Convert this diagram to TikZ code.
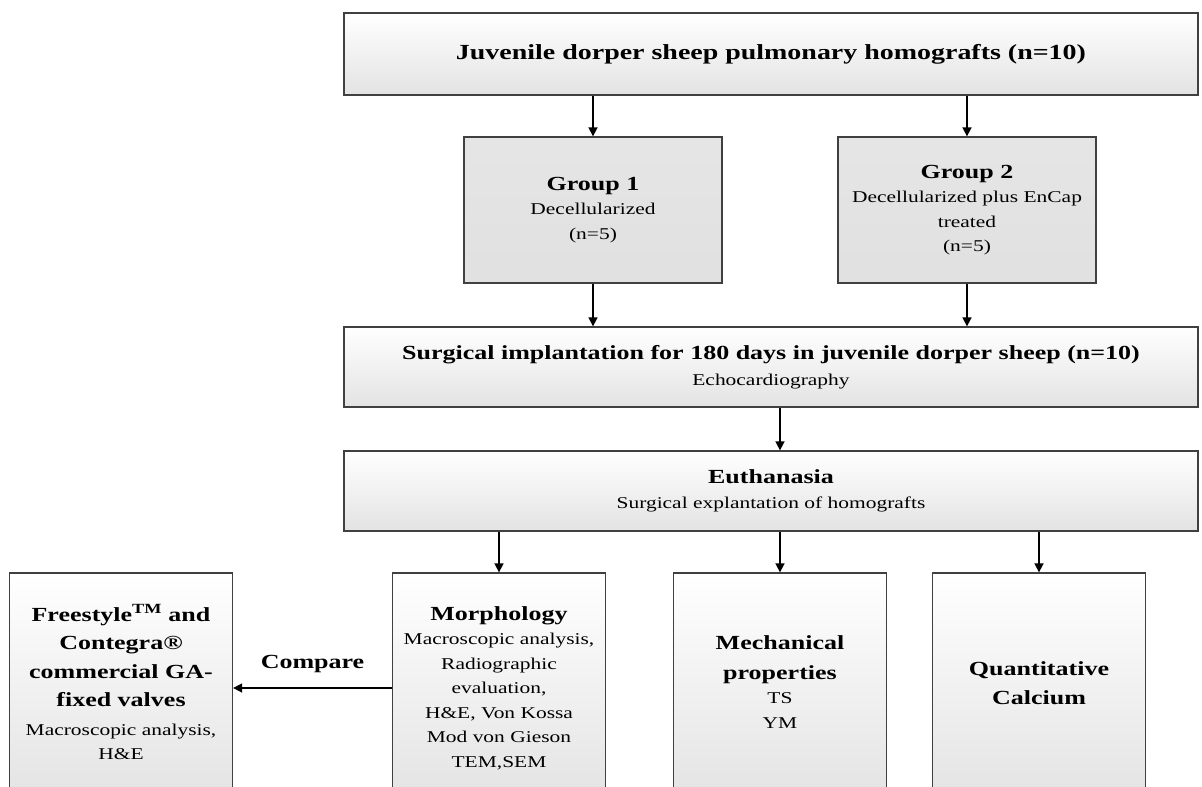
\documentclass[tikz,border=0pt]{standalone}
\usepackage{fontspec}
\setmainfont[FakeStretch=1.3]{Liberation Serif}
\usetikzlibrary{arrows.meta,positioning}
\newcommand\ttl[1]{{\fontsize{20}{25}\selectfont\bfseries #1}}
\begin{document}
\begin{tikzpicture}[x=1pt,y=-1pt,inner sep=0pt]
  \clip(0,0)rectangle(1202,787);
  \tikzstyle{b}=[rectangle,draw=black!75,line width=1.3pt,align=center,top color=white,bottom color=black!11,font=\fontsize{16.5}{24.5}\selectfont]
  \tikzstyle{g}=[b,top color=black!10,bottom color=black!12,minimum width=258,minimum height=146]
  \tikzstyle{w}=[b,minimum width=854,minimum height=80]
  \tikzstyle{r}=[b,minimum width=213,minimum height=230]
  \node[w,minimum height=82](juv)at(771,54){{\fontsize{21.5}{25}\selectfont\bfseries Juvenile dorper sheep pulmonary homografts (n=10)}};
  \node[g](g1)at(593,210){\ttl{Group 1}\\Decellularized\\(n=5)};
  \node[g](g2)at(967,210){\ttl{Group 2}\\Decellularized plus EnCap\\treated\\(n=5)};
  \node[w](surg)at(771,367){\ttl{Surgical implantation for 180 days in juvenile dorper sheep (n=10)}\\[2pt]Echocardiography};
  \node[w](euth)at(771,491){\ttl{Euthanasia}\\Surgical explantation of homografts};
  \node[r](morph)at(499,688){\ttl{Morphology}\\Macroscopic analysis,\\Radiographic\\evaluation,\\H\&E, Von Kossa\\Mod von Gieson\\TEM,SEM};
  \node[r,text depth=12](mech)at(780,688){\ttl{Mechanical}\\[5pt]\ttl{properties}\\TS\\YM};
  \node[r,text depth=10](qc)at(1039,688){\ttl{Quantitative}\\[4pt]\ttl{Calcium}};
  \node[r,minimum width=223,text depth=12](free)at(121,688){\ttl{Freestyle\textsuperscript{TM} and}\\[4pt]\ttl{Contegra®}\\[4pt]\ttl{commercial GA-}\\[4pt]\ttl{fixed valves}\\[4pt]Macroscopic analysis,\\H\&E};
  \tikzstyle{e}=[-{Triangle[length=9pt,width=9pt]},line width=1.6pt]
  \foreach\o/\d/\c in{juv/g1/g1,juv/g2/g2,g1/surg/g1,g2/surg/g2,surg/euth/mech,euth/morph/morph,euth/mech/mech,euth/qc/qc}{\draw[e](\o.south-|\c)--(\d.north-|\c);}
  \draw[e](morph.west)--node[above=14pt,font=\fontsize{20}{25}\selectfont\bfseries]{Compare}(free.east);
\end{tikzpicture}
\end{document}
